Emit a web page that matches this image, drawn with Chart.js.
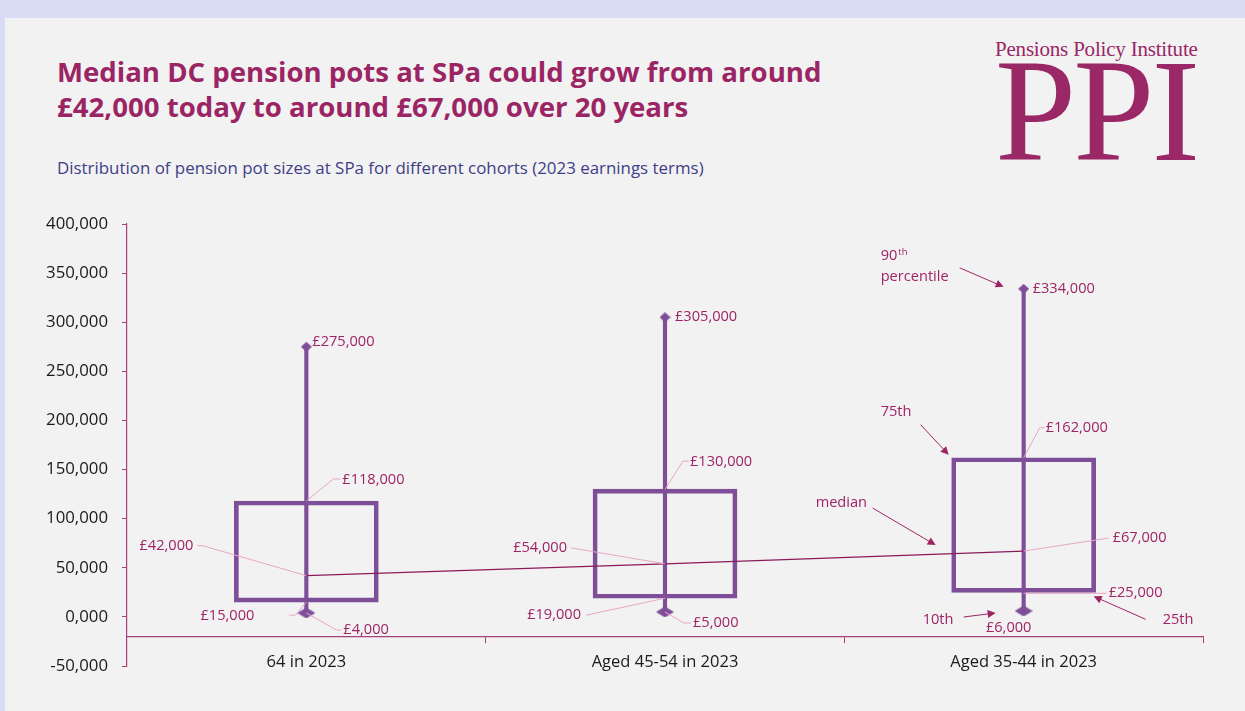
<!DOCTYPE html>
<html>
<head>
<meta charset="utf-8">
<title>Median DC pension pots at SPa</title>
<script src="https://cdn.jsdelivr.net/npm/chart.js@4.4.1/dist/chart.umd.min.js"></script>
<style>
  html, body { margin: 0; padding: 0; }
  body { width: 1245px; height: 711px; background: #dadcf6; position: relative; overflow: hidden; }
  #panel { position: absolute; left: 5px; top: 18px; right: 0; bottom: 0; background: #f2f2f2; }
  #title { position: absolute; left: 57px; top: 54px; margin: 0; font: bold 27.6px/35px "Open Sans", sans-serif; color: #9b2564; }
  #subtitle { position: absolute; left: 57px; top: 156px; margin: 0; font: 16.9px "Open Sans", sans-serif; color: #403e86; }
  #logo { position: absolute; left: 995px; top: 37px; color: #9a2766; font-family: "Liberation Serif", "DejaVu Serif", serif; }
  #logo .small { font-size: 21px; letter-spacing: -0.2px; white-space: nowrap; }
  #logo .big { font-size: 146px; line-height: 108px; margin-top: -5px; letter-spacing: -3px; }
  canvas { position: absolute; left: 0; top: 0; }
</style>
</head>
<body>
<div id="panel"></div>
<h1 id="title">Median DC pension pots at SPa could grow from around<br>£42,000 today to around £67,000 over 20 years</h1>
<p id="subtitle">Distribution of pension pot sizes at SPa for different cohorts (2023 earnings terms)</p>
<div id="logo"><div class="small">Pensions Policy Institute</div><div class="big">PPI</div></div>
<canvas id="chart" width="1245" height="711"></canvas>
<script>
// 各コホートの分布（2023年の賃金ベース）
const cohorts = ['64 in 2023', 'Aged 45-54 in 2023', 'Aged 35-44 in 2023'];
const p10 = [4000, 5000, 6000];
const p25 = [15000, 19000, 25000];
const median = [42000, 54000, 67000];
const p75 = [118000, 130000, 162000];
const p90 = [275000, 305000, 334000];

const yMin = -50000;
const yMax = 400000;
const yStep = 50000;
const xAxisAt = -20000;

const PURPLE = '#7e4f98';
const MAROON = '#9e2466';
const LEADER = '#e8a6c6';
const LABEL_FONT = '14.6px "Open Sans", sans-serif';

// ひし形マーカー（下側は横長）
function diamond(w, h) {
    const c = document.createElement('canvas');
    c.width = w; c.height = h;
    const g = c.getContext('2d');
    g.fillStyle = PURPLE;
    g.beginPath();
    g.moveTo(w / 2, 0); g.lineTo(w, h / 2); g.lineTo(w / 2, h); g.lineTo(0, h / 2);
    g.closePath();
    g.fill();
    return c;
}

const money = v => '£' + v.toLocaleString('en-GB');

// ラベルの配置（アンカーからのずれと引き出し線）
const placements = {
    p90: [
        { dx: 6, dy: -5, align: 'left' },
        { dx: 10, dy: 0, align: 'left' },
        { dx: 9, dy: 0, align: 'left' }
    ],
    p75: [
        { dx: 36, dy: -21, align: 'left', leader: [[0, 0], [27, -22], [34, -22]] },
        { dx: 25, dy: -27, align: 'left', leader: [[0, 0], [18, -28], [24, -28]] },
        { dx: 22, dy: -30, align: 'left', leader: [[0, 0], [16, -30], [21, -30]] }
    ],
    median: [
        { dx: -113, dy: -30, align: 'right', leader: [[0, 0], [-104, -30], [-109, -30]] },
        { dx: -98, dy: -16, align: 'right', leader: [[0, 0], [-94, -16]] },
        { dx: 89, dy: -13, align: 'left', leader: [[0, 0], [85, -13]] }
    ],
    p25: [
        { dx: -52, dy: 14, align: 'right', leader: [[0, 0], [-11, 13], [-17, 13]] },
        { dx: -84, dy: 17, align: 'right', leader: [[0, 0], [-79, 17]] },
        { dx: 85, dy: 1, align: 'left', leader: [[0, 1], [83, 1]] }
    ],
    p10: [
        { dx: 37, dy: 17, align: 'left', leader: [[0, 0], [30, 17], [35, 17]] },
        { dx: 28, dy: 11, align: 'left', leader: [[0, 0], [19, 11], [26, 11]] },
        { dx: -15, dy: 17, align: 'center' }
    ]
};
const series = { p10, p25, median, p75, p90 };

function arrow(ctx, x1, y1, x2, y2) {
    const a = Math.atan2(y2 - y1, x2 - x1);
    ctx.beginPath();
    ctx.moveTo(x1, y1);
    ctx.lineTo(x2 - 5 * Math.cos(a), y2 - 5 * Math.sin(a));
    ctx.stroke();
    ctx.beginPath();
    ctx.moveTo(x2, y2);
    ctx.lineTo(x2 - 8 * Math.cos(a) + 4 * Math.sin(a), y2 - 8 * Math.sin(a) - 4 * Math.cos(a));
    ctx.lineTo(x2 - 8 * Math.cos(a) - 4 * Math.sin(a), y2 - 8 * Math.sin(a) + 4 * Math.cos(a));
    ctx.closePath();
    ctx.fill();
}

const valueLabels = {
    id: 'valueLabels',
    afterDatasetsDraw(chart) {
        const ctx = chart.ctx;
        const x = chart.scales.x, y = chart.scales.y;
        ctx.save();
        ctx.font = LABEL_FONT;
        ctx.textBaseline = 'middle';
        Object.keys(placements).forEach(key => {
            placements[key].forEach((p, i) => {
                const ax = x.getPixelForValue(i);
                const ay = y.getPixelForValue(series[key][i]);
                if (p.leader) {
                    ctx.strokeStyle = LEADER;
                    ctx.lineWidth = 1;
                    ctx.beginPath();
                    p.leader.forEach(([lx, ly], k) => {
                        if (k === 0) ctx.moveTo(ax + lx, ay + ly);
                        else ctx.lineTo(ax + lx, ay + ly);
                    });
                    ctx.stroke();
                }
                ctx.fillStyle = MAROON;
                ctx.textAlign = p.align;
                ctx.fillText(money(series[key][i]), ax + p.dx, ay + p.dy);
            });
        });

        // 一番右のコホートに付ける説明
        const cx = x.getPixelForValue(2);
        const at = v => y.getPixelForValue(v);
        ctx.fillStyle = MAROON;
        ctx.strokeStyle = MAROON;
        ctx.lineWidth = 1;
        ctx.textAlign = 'left';
        const t90 = at(p90[2]);
        ctx.fillText('90', cx - 143, t90 - 33);
        const w90 = ctx.measureText('90').width;
        ctx.font = '9.5px "Open Sans", sans-serif';
        ctx.fillText('th', cx - 143 + w90 + 1, t90 - 37);
        ctx.font = LABEL_FONT;
        ctx.fillText('percentile', cx - 143, t90 - 12);
        arrow(ctx, cx - 64, t90 - 21, cx - 20, t90 - 2);

        const t75 = at(p75[2]);
        ctx.fillText('75th', cx - 143, t75 - 46);
        arrow(ctx, cx - 103, t75 - 33, cx - 75, t75 - 3);

        const tMed = at(median[2]);
        ctx.fillText('median', cx - 208, tMed - 48);
        arrow(ctx, cx - 151, tMed - 43, cx - 88, tMed - 6);

        const t10 = at(p10[2]);
        ctx.fillText('10th', cx - 101, t10 + 9);
        arrow(ctx, cx - 60, t10 + 6, cx - 28, t10 + 2);

        const t25 = at(p25[2]);
        ctx.fillText('25th', cx + 139, t25 + 28);
        arrow(ctx, cx + 122, t25 + 27, cx + 70, t25 + 4);
        ctx.restore();
    }
};

const ctx = document.getElementById('chart').getContext('2d');
new Chart(ctx, {
    type: 'bar',
    data: {
        labels: cohorts,
        datasets: [
            {
                label: '25th-75th',
                data: p25.map((v, i) => [v, p75[i]]),
                backgroundColor: 'rgba(0,0,0,0)',
                borderColor: PURPLE,
                borderWidth: 4,
                borderSkipped: false,
                barThickness: 144,
                grouped: false,
                order: 4
            },
            {
                label: '10th-90th',
                data: p10.map((v, i) => [v, p90[i]]),
                backgroundColor: PURPLE,
                borderWidth: 0,
                barThickness: 3.5,
                grouped: false,
                order: 3
            },
            {
                type: 'line',
                label: 'median',
                data: median,
                borderColor: '#8c1a5a',
                borderWidth: 1.3,
                pointRadius: 0,
                order: 2
            },
            {
                type: 'line',
                label: '90th',
                data: p90,
                showLine: false,
                pointStyle: diamond(11, 10),
                order: 1
            },
            {
                type: 'line',
                label: '10th',
                data: p10,
                showLine: false,
                pointStyle: diamond(18, 11),
                order: 1
            }
        ]
    },
    options: {
        responsive: false,
        animation: false,
        layout: { padding: { top: 224, bottom: 45, left: 0, right: 42 } },
        plugins: { legend: { display: false }, tooltip: { enabled: false } },
        scales: {
            x: {
                position: { y: xAxisAt },
                grid: { drawOnChartArea: false, offset: true, tickLength: 6, color: '#a8407a' },
                border: { color: '#a8407a', width: 1.2 },
                ticks: { color: '#1a1a1a', font: { family: 'Open Sans', size: 16.5 }, padding: 10 }
            },
            y: {
                min: yMin,
                max: yMax,
                afterFit: s => { s.width = 127; },
                grid: { drawOnChartArea: false, tickLength: 5, color: '#a8407a' },
                border: { color: '#a8407a', width: 1.2 },
                ticks: {
                    stepSize: yStep,
                    color: '#1a1a1a',
                    font: { family: 'Open Sans', size: 16.8 },
                    padding: 14,
                    callback: v => v === 0 ? '0,000' : v.toLocaleString('en-GB')
                }
            }
        }
    },
    plugins: [valueLabels]
});
</script>
</body>
</html>
